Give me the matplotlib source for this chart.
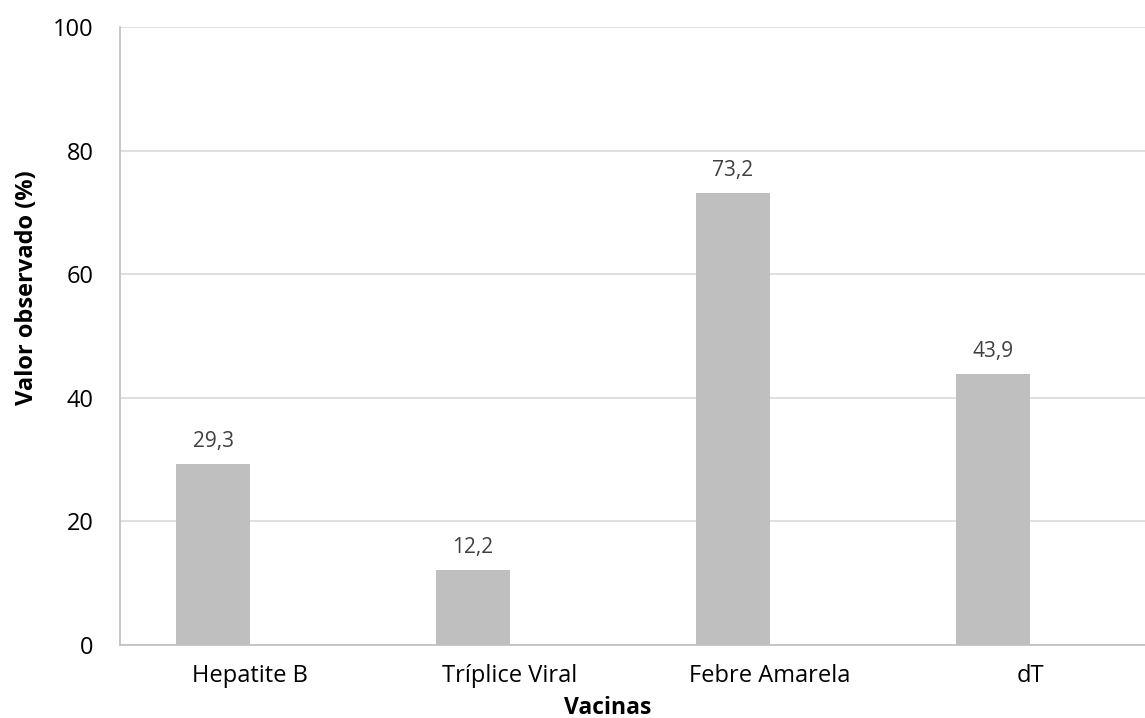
import numpy as np
import matplotlib.pyplot as plt

plt.rcParams['font.family'] = ['Open Sans', 'DejaVu Sans']

vacinas = ['Hepatite B', 'Tríplice Viral', 'Febre Amarela', 'dT']
valores = [29.3, 12.2, 73.2, 43.9]
rotulos = ['29,3', '12,2', '73,2', '43,9']

fig = plt.figure(figsize=(11.45, 7.18), dpi=100)
ax = fig.add_axes([120/1145, 1 - 645/718, 1040/1145, 618/718])

x = np.arange(len(vacinas))
bars = ax.bar(x - 0.1423, valores, width=0.285, color='#BFBFBF', zorder=3)

for b, lab in zip(bars, rotulos):
    ax.annotate(lab, (b.get_x() + b.get_width()/2, b.get_height()),
                xytext=(0, 12), textcoords='offset points',
                ha='center', va='baseline', fontsize=15, color='#404040')

ax.set_xlim(-0.5, 3.5)
ax.set_ylim(0, 100)
ax.set_yticks([0, 20, 40, 60, 80, 100])
ax.set_xticks(x)
ax.set_xticklabels(vacinas)
ax.tick_params(axis='both', length=0, labelsize=17, colors='black')
ax.tick_params(axis='x', pad=14)
ax.tick_params(axis='y', pad=19)
ax.grid(axis='y', color='#D9D9D9', linewidth=1.2, zorder=0)

for s in ['top', 'right']:
    ax.spines[s].set_visible(False)
for s in ['left', 'bottom']:
    ax.spines[s].set_color('#BFBFBF')
    ax.spines[s].set_linewidth(1.2)

fig.text(608/1145, 1 - 708/718, 'Vacinas', ha='center', va='center',
         fontsize=16.5, fontweight='bold')
fig.text(27/1145, 1 - 288/718, 'Valor observado (%)', ha='center', va='center',
         rotation=90, fontsize=17, fontweight='bold')

fig.savefig('out.png', dpi=100)
